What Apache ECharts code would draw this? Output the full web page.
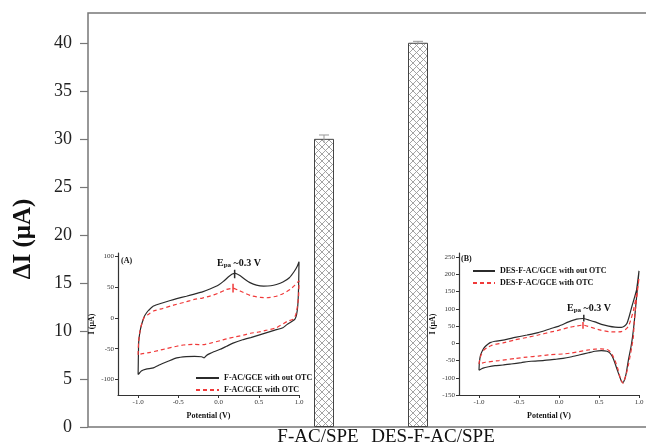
<!DOCTYPE html>
<html>
<head>
<meta charset="utf-8">
<script src="https://cdn.jsdelivr.net/npm/echarts@6/dist/echarts.min.js"></script>
<style>
  html, body { margin: 0; padding: 0; background: #fff; }
  #chart { width: 646px; height: 446px; }
</style>
</head>
<body>
<div id="chart"></div>
<script>
// main bar chart
const categories = ['F-AC/SPE', 'DES-F-AC/SPE'];
const barValues = [30, 40];
const barErrors = [0.4, 0.15];
const mainTicks = [0, 5, 10, 15, 20, 25, 30, 35, 40];

// inset (A): F-AC/GCE CV curves [potential V, current uA]
const namesA = ['F-AC/GCE with out OTC', 'F-AC/GCE with OTC'];
const cvA_without = [
  [-1.0,-92],[-0.995,-50],[-0.99,-35],[-0.97,-18],[-0.95,-8],[-0.92,3],[-0.89,9],[-0.87,12],[-0.81,19],
  [-0.7,24],[-0.6,28],[-0.52,31],[-0.4,35],[-0.3,38.5],[-0.2,42],[-0.1,47],[0,53],[0.06,59],[0.12,66],
  [0.17,71],[0.21,72],[0.27,68],[0.33,62],[0.39,57],[0.47,53],[0.56,51.5],[0.65,52],[0.72,54],[0.8,58],
  [0.88,65],[0.94,75],[0.98,84],[1.0,91],
  [0.995,50],[0.985,20],[0.97,5],[0.95,-2],[0.91,-6],[0.85,-11],[0.8,-16],[0.7,-20],[0.6,-24],[0.5,-28],
  [0.4,-32],[0.3,-35.5],[0.18,-41],[0.1,-46],[0.02,-51],[-0.06,-55],[-0.11,-58],[-0.15,-61],[-0.18,-65],
  [-0.21,-63],[-0.3,-62.5],[-0.4,-63],[-0.52,-65],[-0.62,-70],[-0.73,-76],[-0.81,-81],[-0.9,-83],
  [-0.96,-86],[-1.0,-92]
];
const cvA_with = [
  [-1.0,-60],[-0.995,-40],[-0.98,-24],[-0.96,-12],[-0.94,-4],[-0.92,2],[-0.88,5],[-0.81,11],[-0.7,15],
  [-0.6,19],[-0.52,22],[-0.4,26],[-0.3,30],[-0.2,32],[-0.1,35.5],[0,40],[0.1,46],[0.18,48],[0.24,45],
  [0.31,41],[0.4,36],[0.52,33],[0.6,32.5],[0.72,35],[0.8,39],[0.89,46],[0.95,53],[1.0,60],
  [0.995,35],[0.98,18],[0.96,5],[0.93,-2],[0.85,-6],[0.72,-16],[0.6,-20],[0.5,-23],[0.4,-25],[0.31,-28],
  [0.2,-31],[0.1,-34],[0.02,-37],[-0.1,-41],[-0.19,-43.5],[-0.3,-43],[-0.44,-44],[-0.52,-46],[-0.65,-50],
  [-0.75,-53],[-0.85,-56],[-0.95,-58],[-1.0,-60]
];
const epaA_without = [[0.2, 64], [0.2, 78]];
const epaA_with = [[0.18, 41], [0.18, 55]];

// inset (B): DES-F-AC/GCE CV curves
const namesB = ['DES-F-AC/GCE with out OTC', 'DES-F-AC/GCE with OTC'];
const cvB_without = [
  [-1.0,-78],[-0.995,-55],[-0.98,-34],[-0.95,-18],[-0.925,-10],[-0.89,-3],[-0.86,2],[-0.8,6],[-0.68,10],
  [-0.55,17],[-0.4,24],[-0.26,31],[-0.1,43],[0.0,50],[0.12,62],[0.22,70],[0.3,72],[0.38,67],[0.45,62],
  [0.53,55],[0.62,50],[0.7,47],[0.78,46],[0.82,50],[0.85,58],[0.88,80],[0.91,106],[0.94,130],[0.97,156],
  [1.0,210],
  [0.985,170],[0.96,110],[0.94,60],[0.92,20],[0.9,-10],[0.87,-45],[0.84,-87],[0.82,-105],[0.8,-114],
  [0.78,-110],[0.74,-85],[0.7,-58],[0.67,-40],[0.64,-29],[0.6,-23],[0.53,-21.5],[0.45,-23],[0.37,-27.5],
  [0.25,-34],[0.16,-39],[0.05,-44],[-0.05,-46.5],[-0.2,-50],[-0.35,-52],[-0.47,-56],[-0.6,-60],
  [-0.7,-63],[-0.8,-65],[-0.88,-68],[-0.95,-72],[-1.0,-78]
];
const cvB_with = [
  [-1.0,-60],[-0.99,-45],[-0.97,-32],[-0.94,-20],[-0.9,-13],[-0.85,-7],[-0.8,-3],[-0.7,1],[-0.55,10],
  [-0.4,17],[-0.26,24],[-0.1,33],[0.0,38],[0.12,46],[0.22,50],[0.3,53],[0.38,48],[0.45,43],[0.52,38],
  [0.62,34],[0.7,33],[0.78,34],[0.83,40],[0.87,50],[0.9,70],[0.93,95],[0.96,130],[0.99,170],[1.0,190],
  [0.98,150],[0.96,110],[0.94,60],[0.93,20],[0.91,-10],[0.87,-60],[0.84,-90],[0.8,-116],[0.77,-105],
  [0.74,-77],[0.7,-50],[0.67,-35],[0.65,-27],[0.62,-20],[0.59,-17.5],[0.52,-16],[0.45,-17],[0.35,-20],
  [0.25,-24],[0.16,-28],[0.05,-31],[-0.1,-33],[-0.26,-37],[-0.4,-40],[-0.55,-44],[-0.75,-50],
  [-0.92,-55],[-1.0,-60]
];
const epaB_without = [[0.31, 63], [0.31, 83]];
const epaB_with = [[0.3, 42], [0.3, 62]];

const insetXTicks = [-1.0, -0.5, 0.0, 0.5, 1.0];
const insetATicks = [-100, -50, 0, 50, 100];
const insetBTicks = [-150, -100, -50, 0, 50, 100, 150, 200, 250];

const SERIF = '"Liberation Serif", "DejaVu Serif", serif';
const BLACK = '#2b2b2b';
const RED = '#f03a3a';

// crosshatch fill for the bars
const hatch = document.createElement('canvas');
hatch.width = 7; hatch.height = 7;
(function () {
  const c = hatch.getContext('2d');
  c.fillStyle = '#fff';
  c.fillRect(0, 0, 7, 7);
  c.strokeStyle = '#9a9a9a';
  c.lineWidth = 0.9;
  c.beginPath();
  c.moveTo(0, 0); c.lineTo(7, 7);
  c.moveTo(7, 0); c.lineTo(0, 7);
  c.stroke();
})();

const chart = echarts.init(document.getElementById('chart'));

const insetAxisLabel = { fontFamily: SERIF, fontSize: 7, color: '#333', margin: 4 };
const insetLine = { onZero: false, lineStyle: { color: '#333', width: 1.2 } };
const insetTick = { length: 3, lineStyle: { color: '#333', width: 1 } };
const insetName = { fontFamily: SERIF, fontSize: 8, fontWeight: 'bold', color: '#111' };
const legendText = { fontFamily: SERIF, fontSize: 8, fontWeight: 'bold', color: '#111' };

function cvSeries(name, data, axis, color, dashed) {
  return {
    name: name, type: 'line', xAxisIndex: axis, yAxisIndex: axis,
    data: data, showSymbol: false, symbol: 'none', smooth: 0.15,
    lineStyle: { color: color, width: 1.2, type: dashed ? [4, 3] : 'solid' },
    itemStyle: { color: color },
    z: 5
  };
}
function epaSeries(data, axis, color) {
  return {
    type: 'line', xAxisIndex: axis, yAxisIndex: axis, data: data, symbol: 'none',
    lineStyle: { color: color, width: 1.5 }, z: 6, silent: true
  };
}
function epaLabel(x, y) {
  return {
    type: 'text', left: x, top: y,
    style: {
      text: '{e|E}{s|pa}{e| ~0.3 V}',
      rich: {
        e: { fontFamily: SERIF, fontSize: 10, fontWeight: 'bold', fill: '#111' },
        s: { fontFamily: SERIF, fontSize: 7, fontWeight: 'bold', fill: '#111', padding: [5, 0, 0, 0] }
      }
    }
  };
}
function insetX(grid) {
  return {
    gridIndex: grid, type: 'value', min: -1.25, max: 1.0,
    name: 'Potential (V)', nameLocation: 'middle', nameGap: 17, nameTextStyle: insetName,
    axisLine: insetLine, splitLine: { show: false },
    axisTick: Object.assign({ customValues: insetXTicks }, insetTick),
    axisLabel: Object.assign({ customValues: insetXTicks, formatter: v => v.toFixed(1) }, insetAxisLabel)
  };
}
function insetY(grid, min, max, ticks) {
  return {
    gridIndex: grid, type: 'value', min: min, max: max,
    name: 'I (μA)', nameLocation: 'middle', nameGap: 22, nameTextStyle: insetName,
    axisLine: insetLine, splitLine: { show: false },
    axisTick: Object.assign({ customValues: ticks }, insetTick),
    axisLabel: Object.assign({ customValues: ticks }, insetAxisLabel)
  };
}

const option = {
  animation: false,
  backgroundColor: '#fff',
  grid: [
    { left: 88, right: -10, top: 13, bottom: 19, show: true, borderColor: '#777', borderWidth: 1.5, outerBoundsMode: 'none' },
    { left: 277, width: 188, top: 13, bottom: 19, outerBoundsMode: 'none' },
    { left: 118, right: 347, top: 253, bottom: 51, outerBoundsMode: 'none' },
    { left: 459, right: 7, top: 253, bottom: 51, outerBoundsMode: 'none' }
  ],
  legend: [
    {
      data: namesA, orient: 'vertical', left: 190, top: 369, itemWidth: 23, itemHeight: 8, itemGap: 4,
      itemStyle: { opacity: 0 }, textStyle: legendText
    },
    {
      data: namesB, orient: 'vertical', left: 467, top: 262, itemWidth: 22, itemHeight: 8, itemGap: 4,
      itemStyle: { opacity: 0 }, textStyle: legendText
    }
  ],
  xAxis: [
    { gridIndex: 0, type: 'value', min: 0, max: 1, show: false },
    {
      gridIndex: 1, type: 'category', data: categories,
      axisLine: { show: false }, axisTick: { show: false },
      axisLabel: {
        interval: 0, margin: 1, color: '#111',
        formatter: function (v, i) { return i === 0 ? '{a|' + v + '}' : '{b|' + v + '}'; },
        rich: {
          a: { fontFamily: SERIF, fontSize: 19, lineHeight: 18, color: '#111', padding: [0, 12, 0, 0] },
          b: { fontFamily: SERIF, fontSize: 19, lineHeight: 18, color: '#111', padding: [0, 0, 0, 30] }
        }
      }
    },
    insetX(2),
    insetX(3)
  ],
  yAxis: [
    {
      gridIndex: 0, type: 'value', min: 0, max: 43.1,
      axisLine: { show: false }, splitLine: { show: false },
      axisTick: { customValues: mainTicks, length: 8, lineStyle: { color: '#777', width: 1.2 } },
      axisLabel: { customValues: mainTicks, fontFamily: SERIF, fontSize: 18, color: '#222', margin: 16 }
    },
    { gridIndex: 1, type: 'value', min: 0, max: 43.1, show: false },
    insetY(2, -125, 105, insetATicks),
    insetY(3, -150, 262, insetBTicks)
  ],
  graphic: [
    {
      type: 'text', x: 24, y: 239, rotation: Math.PI / 2,
      style: {
        text: 'ΔI (μA)', font: 'bold 25px ' + SERIF, fill: '#111',
        align: 'center', verticalAlign: 'middle'
      }
    },
    { type: 'text', left: 121, top: 257, style: { text: '(A)', font: 'bold 8px ' + SERIF, fill: '#111' } },
    { type: 'text', left: 461, top: 255, style: { text: '(B)', font: 'bold 8px ' + SERIF, fill: '#111' } },
    epaLabel(217, 258),
    epaLabel(567, 303)
  ],
  series: [
    {
      type: 'bar', xAxisIndex: 1, yAxisIndex: 1, data: barValues, barWidth: 20,
      itemStyle: { color: { image: hatch, repeat: 'repeat' }, borderColor: '#444', borderWidth: 1 }
    },
    {
      type: 'custom', xAxisIndex: 1, yAxisIndex: 1, z: 4,
      data: barValues.map((v, i) => [i, v - barErrors[i], v + barErrors[i]]),
      renderItem: function (params, api) {
        const lo = api.coord([api.value(0), api.value(1)]);
        const hi = api.coord([api.value(0), api.value(2)]);
        const w = 5;
        const st = { stroke: '#999', lineWidth: 1 };
        return {
          type: 'group',
          children: [
            { type: 'line', shape: { x1: hi[0], y1: hi[1], x2: lo[0], y2: lo[1] }, style: st },
            { type: 'line', shape: { x1: hi[0] - w, y1: hi[1], x2: hi[0] + w, y2: hi[1] }, style: st }
          ]
        };
      }
    },
    cvSeries(namesA[0], cvA_without, 2, BLACK, false),
    cvSeries(namesA[1], cvA_with, 2, RED, true),
    epaSeries(epaA_without, 2, BLACK),
    epaSeries(epaA_with, 2, RED),
    cvSeries(namesB[0], cvB_without, 3, BLACK, false),
    cvSeries(namesB[1], cvB_with, 3, RED, true),
    epaSeries(epaB_without, 3, BLACK),
    epaSeries(epaB_with, 3, RED)
  ]
};

chart.setOption(option);
</script>
</body>
</html>
